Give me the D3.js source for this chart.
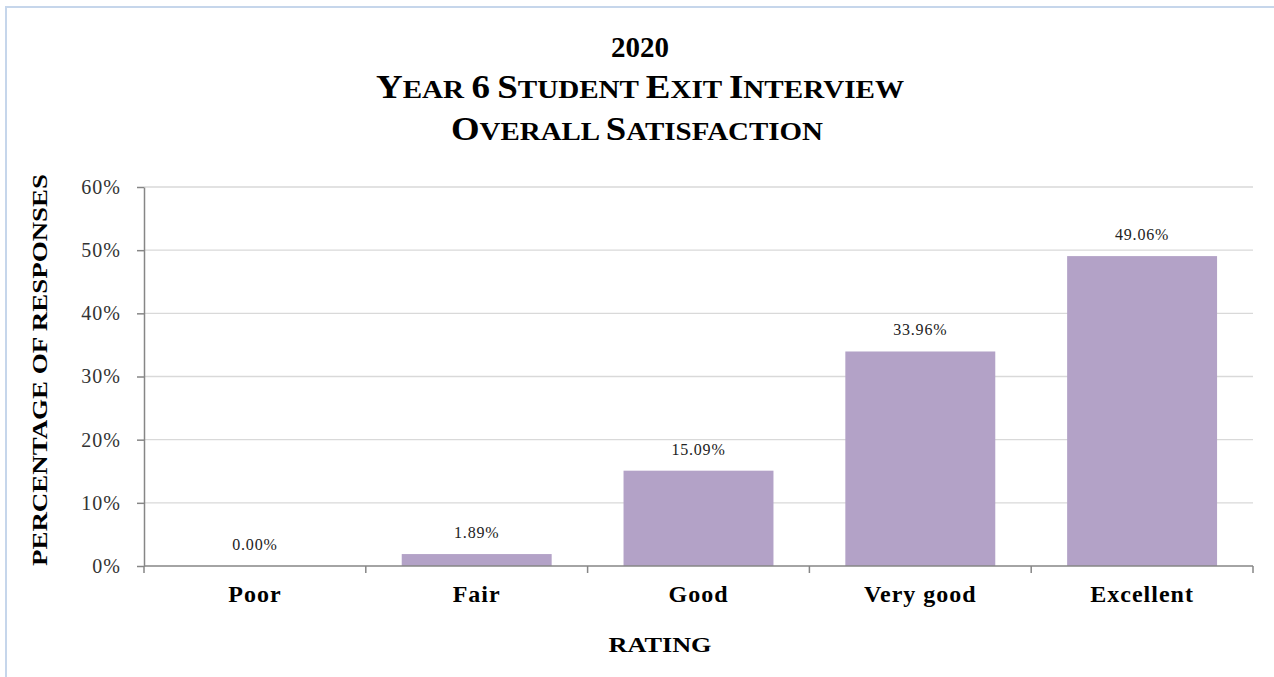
<!DOCTYPE html>
<html>
<head>
<meta charset="utf-8">
<script src="https://cdn.jsdelivr.net/npm/d3@7"></script>
<style>
  html, body { margin: 0; padding: 0; background: #fff; }
  svg { display: block; }
  text { font-family: "Liberation Serif", "DejaVu Serif", serif; }
</style>
</head>
<body>
<svg id="chart" width="1274" height="677"></svg>
<script>
const categories = ["Poor", "Fair", "Good", "Very good", "Excellent"];
const values = [0.00, 1.89, 15.09, 33.96, 49.06];
const yTicks = [0, 10, 20, 30, 40, 50, 60];
const titleLines = ["2020", "Year 6 Student Exit Interview", "Overall Satisfaction"];
const xTitle = "RATING";
const yTitle = "PERCENTAGE OF RESPONSES";

const svg = d3.select("#chart");
const W = 1274, H = 677;
const m = { left: 144, right: 21, top: 187, bottom: 111 };
const plotW = W - m.left - m.right;
const plotH = H - m.top - m.bottom;

// Frame border
svg.append("path")
  .attr("d", `M6,${H} L6,7 L${W},7`)
  .attr("fill", "none")
  .attr("stroke", "#c6d6eb")
  .attr("stroke-width", 2);

const x = d3.scaleBand().domain(categories).range([m.left, m.left + plotW]).paddingInner(0.324).paddingOuter(0.162);
const y = d3.scaleLinear().domain([0, 60]).range([m.top + plotH, m.top]);

// gridlines
svg.append("g").selectAll("line").data(yTicks.filter(d => d > 0)).join("line")
  .attr("x1", m.left).attr("x2", m.left + plotW)
  .attr("y1", d => y(d)).attr("y2", d => y(d))
  .attr("stroke", "#d9d9d9").attr("stroke-width", 1.3);

// bars
svg.append("g").selectAll("rect").data(categories).join("rect")
  .attr("x", d => x(d))
  .attr("width", x.bandwidth())
  .attr("y", (d, i) => y(values[i]))
  .attr("height", (d, i) => y(0) - y(values[i]))
  .attr("fill", "#b3a2c7");

// data labels
svg.append("g").selectAll("text").data(categories).join("text")
  .attr("x", d => x(d) + x.bandwidth() / 2)
  .attr("y", (d, i) => y(values[i]) - 16)
  .attr("text-anchor", "middle")
  .attr("font-size", 16)
  .attr("letter-spacing", 0.8)
  .attr("fill", "#222")
  .text((d, i) => values[i].toFixed(2) + "%");

// y axis
const yAxis = d3.axisLeft(y).tickValues(yTicks).tickFormat(d => d + "%").tickSize(7).tickSizeOuter(0);
const gy = svg.append("g").attr("transform", `translate(${m.left},0)`).call(yAxis);
gy.select(".domain").attr("stroke", "#868686").attr("stroke-width", 1.5);
gy.selectAll(".tick line").attr("stroke", "#868686").attr("stroke-width", 1.5);
gy.selectAll(".tick text").attr("font-size", 20).attr("fill", "#333")
  .attr("letter-spacing", 1)
  .attr("font-family", "'Liberation Serif', serif").attr("x", -23);

// x axis with ticks at category boundaries
const gx = svg.append("g").attr("transform", `translate(0,${y(0)})`);
gx.append("line").attr("x1", m.left).attr("x2", m.left + plotW)
  .attr("stroke", "#868686").attr("stroke-width", 1.5);
const boundaries = d3.range(categories.length + 1).map(i => m.left + i * plotW / categories.length);
gx.selectAll("line.tk").data(boundaries).join("line").attr("class", "tk")
  .attr("x1", d => d).attr("x2", d => d).attr("y1", 0).attr("y2", 7)
  .attr("stroke", "#868686").attr("stroke-width", 1.5);
gx.selectAll("text").data(categories).join("text")
  .attr("x", d => x(d) + x.bandwidth() / 2)
  .attr("y", 36)
  .attr("text-anchor", "middle")
  .attr("font-size", 24)
  .attr("letter-spacing", 1)
  .attr("font-weight", "bold")
  .attr("fill", "#000")
  .text(d => d);

// axis titles
svg.append("text")
  .attr("x", 660).attr("y", 652)
  .attr("text-anchor", "middle").attr("font-size", 22).attr("font-weight", "bold")
  .attr("textLength", 103).attr("lengthAdjust", "spacingAndGlyphs")
  .text(xTitle);
svg.append("text")
  .attr("transform", `translate(47,${370}) rotate(-90)`)
  .attr("text-anchor", "middle").attr("font-size", 21).attr("font-weight", "bold")
  .attr("textLength", 392).attr("lengthAdjust", "spacingAndGlyphs")
  .text(yTitle);

// title
svg.append("text")
  .attr("x", 640).attr("y", 57)
  .attr("text-anchor", "middle").attr("font-size", 29).attr("font-weight", "bold")
  .text(titleLines[0]);

function smallCaps(sel, str, big, small) {
  str.split(" ").forEach((w, wi) => {
    if (wi > 0) sel.append("tspan").attr("font-size", small).text(" ");
    const first = w[0], rest = w.slice(1);
    sel.append("tspan").attr("font-size", big).text(first.toUpperCase());
    if (rest) sel.append("tspan").attr("font-size", small).text(rest.toUpperCase());
  });
}
const t2 = svg.append("text").attr("x", 640).attr("y", 98)
  .attr("text-anchor", "middle").attr("font-weight", "bold")
  .attr("textLength", 528).attr("lengthAdjust", "spacingAndGlyphs");
smallCaps(t2, titleLines[1], 33, 26);
const t3 = svg.append("text").attr("x", 637).attr("y", 140)
  .attr("text-anchor", "middle").attr("font-weight", "bold")
  .attr("textLength", 372).attr("lengthAdjust", "spacingAndGlyphs");
smallCaps(t3, titleLines[2], 33, 26);
</script>
</body>
</html>
